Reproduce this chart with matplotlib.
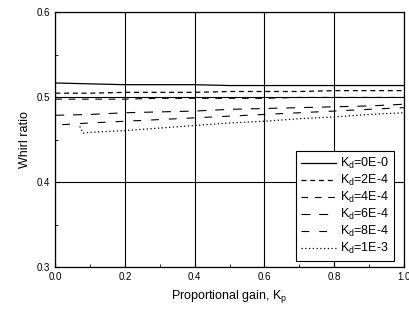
import matplotlib.pyplot as plt
import numpy as np

plt.rcParams['font.family'] = ['Liberation Sans', 'DejaVu Sans']

# proportional gain (x) and whirl ratio for each derivative gain Kd
kp = [0.0, 0.1, 0.2, 0.3, 0.4, 0.5, 0.6, 0.7, 0.8, 0.9, 1.0]
kd_0 = [0.517, 0.516, 0.515, 0.515, 0.515, 0.514, 0.514, 0.514, 0.514, 0.514, 0.514]
kd_2 = [0.505, 0.505, 0.506, 0.506, 0.506, 0.507, 0.507, 0.507, 0.508, 0.508, 0.508]
kd_4 = [0.498, 0.498, 0.498, 0.499, 0.499, 0.499, 0.499, 0.500, 0.500, 0.500, 0.500]
kd_6 = [0.479, 0.480, 0.482, 0.483, 0.484, 0.486, 0.487, 0.488, 0.489, 0.490, 0.492]
kp_8 = [0.02, 0.1, 0.2, 0.3, 0.4, 0.5, 0.6, 0.7, 0.8, 0.9, 1.0]
kd_8 = [0.468, 0.470, 0.472, 0.474, 0.476, 0.478, 0.480, 0.482, 0.484, 0.486, 0.488]
kp_10 = [0.07, 0.08, 0.1, 0.2, 0.3, 0.4, 0.5, 0.6, 0.7, 0.8, 0.9, 1.0]
kd_10 = [0.466, 0.458, 0.459, 0.461, 0.464, 0.467, 0.470, 0.472, 0.475, 0.477, 0.480, 0.482]

labels = [r'$\mathregular{K_d}$=0E-0', r'$\mathregular{K_d}$=2E-4', r'$\mathregular{K_d}$=4E-4',
          r'$\mathregular{K_d}$=6E-4', r'$\mathregular{K_d}$=8E-4', r'$\mathregular{K_d}$=1E-3']

fig, ax = plt.subplots(figsize=(4.10, 3.11), dpi=100)
fig.subplots_adjust(left=0.135, right=0.985, top=0.96, bottom=0.14)

ax.plot(kp, kd_0, color='black', lw=0.9, ls='-', label=labels[0])
ax.plot(kp, kd_2, color='black', lw=0.9, ls=(0, (4, 3)), label=labels[1])
ax.plot(kp, kd_4, color='black', lw=0.8, ls=(0, (6, 6)), label=labels[2])
ax.plot(kp, kd_6, color='black', lw=0.8, ls=(0, (8, 8)), label=labels[3])
ax.plot(kp_8, kd_8, color='black', lw=0.8, ls=(0, (7, 9)), label=labels[4])
ax.plot(kp_10, kd_10, color='black', lw=0.9, ls=(0, (1, 2)), label=labels[5])

ax.set_xlim(0, 1.0)
ax.set_ylim(0.3, 0.6)
ax.set_xticks(np.arange(0, 1.01, 0.2))
ax.set_yticks([0.3, 0.4, 0.5, 0.6])
ax.set_xticks(np.arange(0, 1.01, 0.1), minor=True)
ax.set_yticks(np.arange(0.3, 0.61, 0.05), minor=True)
ax.set_xticklabels(['0.0', '0.2', '0.4', '0.6', '0.8', '1.0'])
ax.set_yticklabels(['0.3', '0.4', '0.5', '0.6'])
ax.tick_params(labelsize=7, direction='in', length=3)
ax.tick_params(which='minor', direction='in', length=2)
ax.grid(True, which='major', color='black', lw=0.8)
for s in ax.spines.values():
    s.set_linewidth(0.9)

ax.set_xlabel(r'Proportional gain, $\mathregular{K_p}$', fontsize=9)
ax.set_ylabel('Whirl ratio', fontsize=9)

leg = ax.legend(loc='lower right', bbox_to_anchor=(0.99, 0.0), fontsize=9,
                frameon=True, fancybox=False, edgecolor='black', framealpha=1,
                handlelength=2.8, handletextpad=0.3, labelspacing=0.15,
                borderpad=0.4)
leg.get_frame().set_linewidth(0.8)

fig.savefig('out.png', dpi=100)
